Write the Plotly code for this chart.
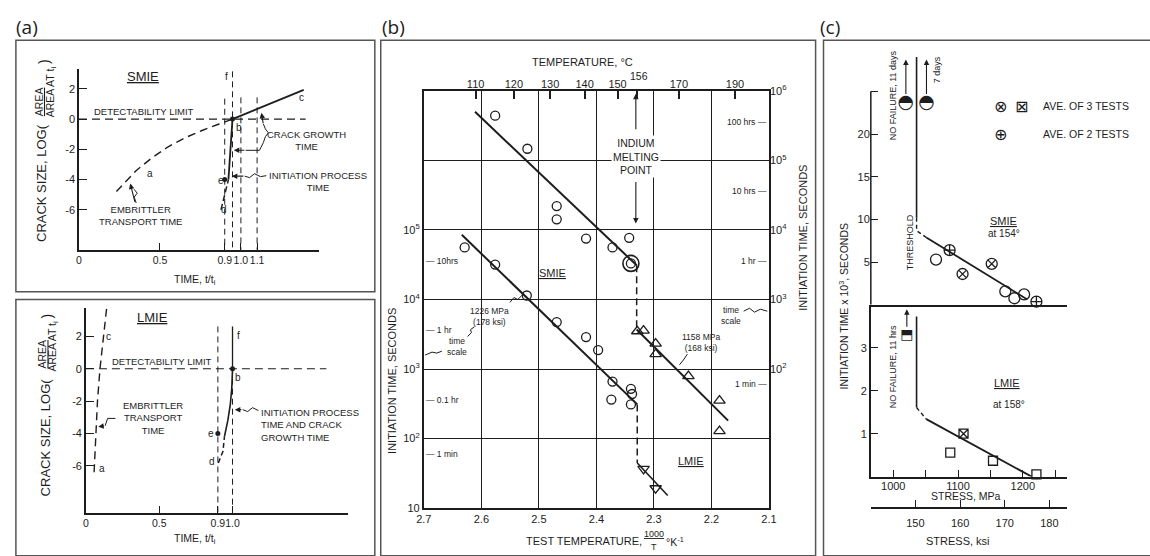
import math
import plotly.graph_objects as go

W, H = 1150, 556


def PX(x):
    return x / W


def PY(y):
    return 1 - y / H


INK = "#1d1d1d"
FONT = "Liberation Sans"
GLYPH = "DejaVu Sans"

# ============================ DATA ============================
# ---- (a) upper: SMIE schematic  (time t/ti, log of crack-area ratio)
a_ytick_vals = [-6, -4, -2, 0, 2]
a_ytick_text = ["-6", "-4", "-2", "0", "2"]
a1_xtick_vals = [0, 0.5, 0.9, 1.0, 1.1]
a1_xtick_text = ["0", "0.5", "0.9", "1.0", "1.1"]
a1_transport_t = [0.231, 0.278, 0.354, 0.449, 0.548, 0.652, 0.756, 0.861, 0.948]
a1_transport_y = [-4.79, -4.26, -3.40, -2.58, -1.85, -1.25, -0.77, -0.34, 0.0]
a1_growth_t = [0.948, 1.388]
a1_growth_y = [0.0, 1.94]
a1_init_t = [0.923, 0.948]
a1_init_y = [-4.0, 0.0]
a1_pre_t = [0.877, 0.923]
a1_pre_y = [-6.0, -4.0]
a1_dot_t = [0.948, 0.9]          # b, e
a1_dot_y = [0.0, -4.0]
a1_guide_t = [0.9, 0.948, 1.0, 1.1]
a1_guide_top = [1.35, 3.16, 1.44, 1.44]
a1_detect_t = [0.0, 1.40]
A1_YRANGE = [-8.65, 3.29]

# ---- (a) lower: LMIE schematic
a2_xtick_vals = [0, 0.5, 0.9, 1.0]
a2_xtick_text = ["0", "0.5", "0.9", "1.0"]
a2_transport_t = [0.056, 0.058, 0.067, 0.079, 0.096, 0.119, 0.141]
a2_transport_y = [-6.4, -6.0, -4.0, -2.0, 0.0, 2.0, 3.7]
a2_pre_t = [0.903, 0.935, 0.945]
a2_pre_y = [-5.83, -5.1, -4.2]
a2_init_t = [0.945, 0.968, 0.985, 0.995, 1.0]
a2_init_y = [-4.2, -3.2, -2.2, -1.2, 0.0]
a2_dot_t = [1.0, 0.9]            # b, e
a2_dot_y = [0.0, -4.0]
a2_guide_t = [0.9, 1.0]
a2_guide_top = [2.61, 2.61]
a2_detect_t = [0.0, 1.64]
A2_YRANGE = [-8.916, 3.735]

# ---- (b) initiation time vs 1000/T
b_xtick_vals = [2.7, 2.6, 2.5, 2.4, 2.3, 2.2, 2.1]
b_xtick_text = ["2.7", "2.6", "2.5", "2.4", "2.3", "2.2", "2.1"]
b_temp_c = [110, 120, 130, 140, 150, 156, 170, 190]
b_temp_text = ["110", "120", "130", "140", "150", "", "170", "190"]
b_melt_c = 156
b_left_vals = [1e1, 1e2, 1e3, 1e4, 1e5]
b_left_text = ["10", "10<sup>2</sup>", "10<sup>3</sup>", "10<sup>4</sup>", "10<sup>5</sup>"]
b_right_vals = [1e2, 1e3, 1e4, 1e5, 1e6]
b_right_text = ["10<sup>2</sup>", "10<sup>3</sup>", "10<sup>4</sup>", "10<sup>5</sup>", "10<sup>6</sup>"]
b_left_hours_s = [36000, 3600, 360, 60]
b_left_hours_lbl = ["10hrs", "1 hr", "0.1 hr", "1 min"]
b_right_hours_s = [360000, 36000, 3600, 60]
b_right_hours_lbl = ["100 hrs", "10 hrs", "1 hr", "1 min"]

# 1158 MPa series (right-hand time scale)
b_smie_hi_x = [2.576, 2.520, 2.469, 2.469, 2.418, 2.372, 2.343, 2.340]
b_smie_hi_s = [4.4e5, 1.47e5, 2.2e4, 1.42e4, 7.5e3, 5.6e3, 7.7e3, 3.3e3]
b_smie_hi_ring_x = [2.340]
b_smie_hi_ring_s = [3.3e3]
b_smie_hi_fit_x = [2.611, 2.330]
b_smie_hi_fit_s = [5.0e5, 3.1e3]
b_hi_drop_x = [2.330, 2.330]
b_hi_drop_s = [3.1e3, 369]
b_lmie_hi_x = [2.329, 2.318, 2.297, 2.297, 2.240, 2.186, 2.186]
b_lmie_hi_s = [349, 357, 232, 164, 79, 35.2, 12.8]
b_lmie_hi_fit_x = [2.330, 2.171]
b_lmie_hi_fit_s = [369, 18.1]

# 1226 MPa series (left-hand time scale)
b_smie_lo_x = [2.629, 2.576, 2.521, 2.469, 2.418, 2.397, 2.372, 2.374, 2.340, 2.338, 2.340]
b_smie_lo_s = [5.6e4, 3.18e4, 1.14e4, 4730, 2880, 1870, 659, 364, 519, 437, 310]
b_smie_lo_fit_x = [2.634, 2.329]
b_smie_lo_fit_s = [8.5e4, 310]
b_lo_drop_x = [2.329, 2.329]
b_lo_drop_s = [310, 44.6]
b_lmie_lo_x = [2.318, 2.297]
b_lmie_lo_s = [36.7, 19.3]
b_lmie_lo_fit_x = [2.329, 2.276]
b_lmie_lo_fit_s = [44.6, 15.2]

# ---- (c) initiation time (x10^3 s) vs stress
c_mpa_ticks = [1000, 1050, 1100, 1150, 1200, 1250]
c_mpa_text = ["1000", "", "1100", "", "1200", ""]
c_ksi_ticks = [150, 160, 170, 180]
c_ksi_text = ["150", "160", "170", "180"]
c_up_ticks = [5, 10, 15, 20, 25]
c_up_text = ["5", "10", "15", "20", ""]
c_lo_ticks = [1, 2, 3]
c_lo_text = ["1", "2", "3"]
MPA_PER_KSI = 6.894757

c_smie_open_x = [1066, 1173, 1187, 1202]
c_smie_open_y = [5.3, 1.55, 0.75, 1.2]
c_smie_avg2_x = [1087, 1221]
c_smie_avg2_y = [6.4, 0.35]
c_smie_avg3_x = [1107, 1152]
c_smie_avg3_y = [3.6, 4.8]
c_smie_fit_x = [1051, 1207]
c_smie_fit_y = [7.9, 0.6]
c_smie_thr_x = [1036, 1036]
c_smie_thr_y = [29.1, 10.2]
c_smie_kink_x = [1036, 1036, 1051]
c_smie_kink_y = [10.2, 8.7, 7.9]
c_smie_run_x = [1019.5, 1051.3]
c_smie_run_y = [23.7, 23.7]
C_UP_AXIS_TOP = 25.07

c_lmie_open_x = [1088, 1154, 1221]
c_lmie_open_y = [0.56, 0.37, 0.05]
c_lmie_avg3_x = [1108.5]
c_lmie_avg3_y = [1.0]
c_lmie_fit_x = [1051, 1213.5]
c_lmie_fit_y = [1.34, 0.0]
c_lmie_thr_x = [1036, 1036]
c_lmie_thr_y = [3.73, 1.61]
c_lmie_kink_x = [1036, 1051]
c_lmie_kink_y = [1.61, 1.34]
c_lmie_run_x = [1021]
c_lmie_run_y = [3.29]

C_MPA_RANGE = [965.4, 1268.3]

# ============================ FIGURE ============================
fig = go.Figure()


def line(x, y, xa, ya, width=1.5, dash=None):
    fig.add_trace(go.Scatter(x=x, y=y, xaxis=xa, yaxis=ya, mode="lines",
                             line=dict(color=INK, width=width, dash=dash),
                             hoverinfo="skip", showlegend=False))


def marks(x, y, xa, ya, symbol, size, lw=1.3):
    fig.add_trace(go.Scatter(x=x, y=y, xaxis=xa, yaxis=ya, mode="markers",
                             marker=dict(symbol=symbol, size=size, color=INK,
                                         line=dict(color=INK, width=lw)),
                             cliponaxis=False, hoverinfo="skip", showlegend=False))


def verticals(ts, tops, bottom):
    xs, ys = [], []
    for t, top in zip(ts, tops):
        xs += [t, t, None]
        ys += [top, bottom, None]
    return xs, ys


DASH = "6px,4px"

# ---- (a) upper
gx, gy = verticals(a1_guide_t, a1_guide_top, A1_YRANGE[0])
line(gx, gy, "x", "y", width=1, dash=DASH)
line(a1_detect_t, [0, 0], "x", "y", width=1.1, dash="8px,5px")
line(a1_transport_t, a1_transport_y, "x", "y", width=1.4, dash="8px,5px")
line(a1_growth_t, a1_growth_y, "x", "y", width=1.8)
line(a1_init_t, a1_init_y, "x", "y", width=1.8)
line(a1_pre_t, a1_pre_y, "x", "y", width=1.5, dash="6px,3px")
marks(a1_dot_t, a1_dot_y, "x", "y", "circle", 5, lw=0)

# ---- (a) lower
line([a2_guide_t[0], a2_guide_t[0]], [a2_guide_top[0], A2_YRANGE[0]], "x2", "y2", width=1, dash=DASH)
line([a2_guide_t[1], a2_guide_t[1]], [a2_guide_top[1], 0], "x2", "y2", width=1.3)
line([a2_guide_t[1], a2_guide_t[1]], [0, A2_YRANGE[0]], "x2", "y2", width=1, dash=DASH)
line(a2_detect_t, [0, 0], "x2", "y2", width=1.1, dash="8px,5px")
line(a2_transport_t, a2_transport_y, "x2", "y2", width=1.4, dash="8px,5px")
line(a2_pre_t, a2_pre_y, "x2", "y2", width=1.5, dash="5px,3px")
line(a2_init_t, a2_init_y, "x2", "y2", width=1.6)
marks(a2_dot_t, a2_dot_y, "x2", "y2", "circle", 5, lw=0)

# ---- (b)
fig.add_trace(go.Scatter(x=[None], y=[None], xaxis="x4", yaxis="y3", mode="markers",
                         hoverinfo="skip", showlegend=False))
line(b_smie_hi_fit_x, b_smie_hi_fit_s, "x3", "y4", width=2)
line(b_hi_drop_x, b_hi_drop_s, "x3", "y4", width=1.5, dash="7px,4px")
line(b_lmie_hi_fit_x, b_lmie_hi_fit_s, "x3", "y4", width=2)
marks(b_smie_hi_x, b_smie_hi_s, "x3", "y4", "circle-open", 9)
marks(b_smie_hi_ring_x, b_smie_hi_ring_s, "x3", "y4", "circle-open", 16, lw=1.6)
marks(b_lmie_hi_x, b_lmie_hi_s, "x3", "y4", "triangle-up-open", 10)
line(b_smie_lo_fit_x, b_smie_lo_fit_s, "x3", "y3", width=2)
line(b_lo_drop_x, b_lo_drop_s, "x3", "y3", width=1.5, dash="7px,4px")
line(b_lmie_lo_fit_x, b_lmie_lo_fit_s, "x3", "y3", width=1.6)
marks(b_smie_lo_x, b_smie_lo_s, "x3", "y3", "circle-open", 9)
marks(b_lmie_lo_x, b_lmie_lo_s, "x3", "y3", "triangle-down-open", 10)

# ---- (c)
fig.add_trace(go.Scatter(x=[None], y=[None], xaxis="x7", yaxis="y6", mode="markers",
                         hoverinfo="skip", showlegend=False))
line(c_smie_thr_x, c_smie_thr_y, "x5", "y5", width=1.6)
line(c_smie_kink_x, c_smie_kink_y, "x5", "y5", width=1.4, dash="4px,3px")
line(c_smie_fit_x, c_smie_fit_y, "x5", "y5", width=1.8)
marks(c_smie_open_x, c_smie_open_y, "x5", "y5", "circle-open", 11)
marks(c_smie_avg2_x, c_smie_avg2_y, "x5", "y5", "circle-cross-open", 11)
marks(c_smie_avg3_x, c_smie_avg3_y, "x5", "y5", "circle-x-open", 11)
fig.add_trace(go.Scatter(x=c_smie_run_x, y=c_smie_run_y, xaxis="x5", yaxis="y5", mode="text",
                         text=["◓"] * len(c_smie_run_x), textposition="middle center",
                         textfont=dict(family=GLYPH, size=19, color=INK),
                         cliponaxis=False, hoverinfo="skip", showlegend=False))
line(c_lmie_thr_x, c_lmie_thr_y, "x6", "y6", width=1.6)
line(c_lmie_kink_x, c_lmie_kink_y, "x6", "y6", width=1.4, dash="4px,3px")
line(c_lmie_fit_x, c_lmie_fit_y, "x6", "y6", width=1.8)
marks(c_lmie_open_x, c_lmie_open_y, "x6", "y6", "square-open", 9)
marks(c_lmie_avg3_x, c_lmie_avg3_y, "x6", "y6", "square-x-open", 9)
fig.add_trace(go.Scatter(x=c_lmie_run_x, y=c_lmie_run_y, xaxis="x6", yaxis="y6", mode="text",
                         text=["⬒"] * len(c_lmie_run_x), textposition="middle center",
                         textfont=dict(family=GLYPH, size=14, color=INK),
                         cliponaxis=False, hoverinfo="skip", showlegend=False))

# ============================ AXES ============================
TICKFONT = dict(family=FONT, size=11, color=INK)


def lin_axis(**kw):
    base = dict(showgrid=False, zeroline=False, showline=True, linecolor=INK, linewidth=1.5,
                ticks="inside", tickcolor=INK, tickwidth=1.3, ticklen=7, tickangle=0,
                tickfont=TICKFONT, fixedrange=True)
    base.update(kw)
    return base


def inv_t(c):
    return 1000.0 / (c + 273.15)


layout_axes = dict(
    xaxis=lin_axis(domain=[PX(72), PX(315)], range=[0, 1.48], anchor="y",
                   tickvals=a1_xtick_vals, ticktext=a1_xtick_text,
                   tickfont=dict(family=FONT, size=10.5, color=INK)),
    yaxis=lin_axis(domain=[PY(248), PY(63)], range=A1_YRANGE, anchor="x",
                   tickvals=a_ytick_vals, ticktext=a_ytick_text, ticklen=8),
    xaxis2=lin_axis(domain=[PX(79), PX(345)], range=[0, 1.789], anchor="y2",
                    tickvals=a2_xtick_vals, ticktext=a2_xtick_text,
                    tickfont=dict(family=FONT, size=10.5, color=INK)),
    yaxis2=lin_axis(domain=[PY(518), PY(308)], range=A2_YRANGE, anchor="x2",
                    tickvals=a_ytick_vals, ticktext=a_ytick_text, ticklen=8),
    xaxis3=dict(domain=[PX(421.7), PX(771.7)], range=[2.7, 2.1], anchor="y3",
                tickvals=b_xtick_vals, ticktext=b_xtick_text, showgrid=True, gridcolor=INK,
                gridwidth=1.1, showline=True, mirror=True, linecolor=INK, linewidth=1.8,
                ticks="", tickangle=0, zeroline=False, tickfont=TICKFONT, fixedrange=True),
    yaxis3=dict(domain=[PY(513), PY(85)], type="log", range=[1, 7], anchor="x3",
                tickvals=b_left_vals, ticktext=b_left_text, showgrid=True, gridcolor=INK,
                gridwidth=1.1, showline=True, mirror=True, linecolor=INK, linewidth=1.8,
                ticks="", zeroline=False, tickfont=TICKFONT, fixedrange=True),
    yaxis4=dict(type="log", range=[0, 6], overlaying="y3", side="right", anchor="x3",
                tickvals=b_right_vals, ticktext=b_right_text, showgrid=True, gridcolor=INK,
                gridwidth=1.1, showline=False, ticks="", zeroline=False,
                tickfont=TICKFONT, fixedrange=True),
    xaxis4=dict(range=[2.7, 2.1], overlaying="x3", side="top", anchor="y3",
                tickvals=[inv_t(c) for c in b_temp_c], ticktext=b_temp_text,
                ticks="inside", ticklen=8, tickwidth=1.5, tickcolor=INK, showgrid=False,
                tickangle=0, showline=False, zeroline=False, tickfont=TICKFONT, fixedrange=True),
    xaxis5=dict(domain=[PX(875), PX(1074)], range=C_MPA_RANGE, anchor="y5",
                showline=True, linecolor=INK, linewidth=1.5, ticks="", showticklabels=False,
                showgrid=False, zeroline=False, fixedrange=True),
    yaxis5=lin_axis(domain=[PY(304.3), PY(45.9)], range=[0, 29.6], anchor="x5",
                    showline=False, tickvals=c_up_ticks, ticktext=c_up_text),
    xaxis6=lin_axis(domain=[PX(875), PX(1074)], range=C_MPA_RANGE, anchor="y6",
                    tickvals=c_mpa_ticks, ticktext=c_mpa_text, ticklabelstandoff=-2),
    yaxis6=lin_axis(domain=[PY(480.7), PY(304.3)], range=[0, 4.009], anchor="x6",
                    tickvals=c_lo_ticks, ticktext=c_lo_text),
    xaxis7=lin_axis(range=[C_MPA_RANGE[0] / MPA_PER_KSI, C_MPA_RANGE[1] / MPA_PER_KSI],
                    overlaying="x6", anchor="free", position=PY(512.7), side="bottom",
                    tickvals=c_ksi_ticks, ticktext=c_ksi_text, ticklabelstandoff=5),
)

# ============================ TEXT ============================


def T(text, x, y, size=10, xanchor="center", yanchor="middle", angle=0, family=FONT, **kw):
    d = dict(text=text, x=PX(x), y=PY(y), xref="paper", yref="paper", showarrow=False,
             font=dict(family=family, size=size, color=INK), xanchor=xanchor,
             yanchor=yanchor, textangle=angle)
    d.update(kw)
    return d


def ARROW(x, y, ax, ay, width=1.1, head=2, size=1.0):
    return dict(x=PX(x), y=PY(y), xref="paper", yref="paper", ax=ax, ay=ay,
                axref="pixel", ayref="pixel", text="", showarrow=True, arrowhead=head,
                arrowsize=size, arrowwidth=width, arrowcolor=INK)


anns = []
# panel letters
anns += [T("(a)", 6, 20, size=19, xanchor="left", family="Open Sans"),
         T("(b)", 377, 20, size=19, xanchor="left", family="Open Sans"),
         T("(c)", 821, 20, size=19, xanchor="left", family="Open Sans")]

# (a) upper
anns += [
    T("<u>SMIE</u>", 137, 70, size=13),
    T("DETECTABILITY LIMIT", 138, 106, size=9.5),
    T("a", 144, 170, size=10), T("c", 298, 92, size=10), T("b", 234.5, 123, size=10),
    T("e", 216, 177, size=10), T("d", 219, 207, size=10), T("f", 221.5, 70, size=10),
    T("CRACK GROWTH<br>TIME", 303, 135.5, size=9.5),
    T("INITIATION PROCESS<br>TIME", 314, 178, size=9.5),
    T("EMBRITTLER<br>TRANSPORT TIME", 134, 213, size=9.5),
    T("TIME, t/t<sub>i</sub>", 190, 279, size=10.5),
    T("CRACK SIZE, LOG(", 34, 180, size=13, angle=-90),
    T("<u>AREA</u>", 31, 96, size=10.5, angle=-90),
    T("AREA AT t<sub>i</sub>", 43, 86, size=10.5, angle=-90),
    T(")", 36, 55, size=14, angle=-90),
]
# (a) lower
anns += [
    T("<u>LMIE</u>", 147, 318, size=13),
    T("DETECTABILITY LIMIT", 156, 363, size=9.5),
    T("c", 101.5, 337, size=10), T("b", 233.5, 379, size=10), T("f", 233.5, 336, size=10),
    T("e", 206, 436, size=10), T("d", 206.5, 465, size=10), T("a", 95, 472, size=10),
    T("EMBRITTLER<br>TRANSPORT<br>TIME", 147, 421, size=9.5),
    T("INITIATION PROCESS<br>TIME AND CRACK<br>GROWTH TIME", 255, 428, size=9.5,
      xanchor="left", align="left"),
    T("TIME, t/t<sub>i</sub>", 190, 545, size=10.5),
    T("CRACK SIZE, LOG(", 38, 440, size=13, angle=-90),
    T("<u>AREA</u>", 35, 355, size=10.5, angle=-90),
    T("AREA AT t<sub>i</sub>", 46, 347, size=10.5, angle=-90),
    T(")", 40, 316, size=14, angle=-90),
]
# (b)
anns += [
    T("TEMPERATURE, °C", 583, 55, size=11),
    T(str(b_melt_c), 640, 70, size=10.5),
    T("INDIUM<br>MELTING<br>POINT", 636.7, 152, size=10.5, bgcolor="white"),
    T("<u>SMIE</u>", 552, 272, size=11),
    T("<u>LMIE</u>", 693, 465, size=11),
    T("1226 MPa<br>(178 ksi)", 488, 316, size=8.5),
    T("time<br>scale", 455, 347, size=8.5),
    T("1158 MPa<br>(168 ksi)", 703, 343, size=8.5),
    T("time<br>scale", 733, 315, size=8.5),
    T("TEST TEMPERATURE,", 645, 547, size=11, xanchor="right"),
    T("<u>1000</u>", 655, 540, size=9),
    T("T", 655, 553, size=9),
    T("°K<sup>-1</sup>", 665, 547, size=10.5, xanchor="left"),
    T("INITIATION TIME, SECONDS", 390, 383, size=11, angle=-90),
    T("INITIATION TIME, SECONDS", 806, 236, size=11, angle=-90),
]
for s, lbl in zip(b_left_hours_s, b_left_hours_lbl):
    anns.append(dict(text="— " + lbl, x=0, y=math.log10(s), xref="x3 domain", yref="y3",
                     xanchor="left", yanchor="middle", showarrow=False,
                     font=dict(family=FONT, size=8.5, color=INK)))
for s, lbl in zip(b_right_hours_s, b_right_hours_lbl):
    anns.append(dict(text=lbl + " —", x=1, y=math.log10(s), xref="x3 domain", yref="y4",
                     xanchor="right", yanchor="middle", showarrow=False,
                     font=dict(family=FONT, size=8.5, color=INK)))
anns += [ARROW(636.7, 88, 0, 37), ARROW(636.7, 221, 0, -43)]
# (c)
anns += [
    T("⊗", 1006.7, 101, size=16, family=GLYPH), T("⊠", 1028.3, 101, size=16, family=GLYPH),
    T("AVE. OF 3 TESTS", 1048, 101, size=10.5, xanchor="left"),
    T("⊕", 1006.7, 129.5, size=16, family=GLYPH),
    T("AVE. OF 2 TESTS", 1048, 129.5, size=10.5, xanchor="left"),
    T("NO FAILURE, 11 days", 897, 90, size=9, angle=-90),
    T("7 days", 943, 63, size=9, angle=-90),
    T("THRESHOLD", 915, 240, size=9, angle=-90),
    T("<u>SMIE</u>", 1010, 218, size=11),
    T("at 154°", 1010, 231.5, size=10),
    T("NO FAILURE, 11 hrs", 897, 368, size=9, angle=-90),
    T("<u>LMIE</u>", 1013, 385, size=11),
    T("at 158°", 1015, 407, size=10),
    T("STRESS, MPa", 972, 500.5, size=10.5),
    T("STRESS, ksi", 963, 547, size=11),
    T("INITIATION TIME x 10<sup>3</sup>, SECONDS", 847, 306, size=10.5, angle=-90),
]
for sx in c_smie_run_x:
    anns.append(dict(x=sx, y=28.8, xref="x5", yref="y5", ax=0, ay=36, axref="pixel",
                     ayref="pixel", text="", showarrow=True, arrowhead=2, arrowsize=1,
                     arrowwidth=1.1, arrowcolor=INK))
for sx in c_lmie_run_x:
    anns.append(dict(x=sx, y=3.90, xref="x6", yref="y6", ax=0, ay=19, axref="pixel",
                     ayref="pixel", text="", showarrow=True, arrowhead=2, arrowsize=1,
                     arrowwidth=1.1, arrowcolor=INK))
# leader arrows in (a)
anns += [ARROW(124, 180, 5, 20), ARROW(257, 107.5, 2, 12), ARROW(229, 146, 12, 0),
         ARROW(227, 172.5, 13, 0), ARROW(91.5, 429.5, 7, -1), ARROW(230, 412, 8, 0)]

# ============================ SHAPES ============================


def LEADER(points, width=1.0):
    p = "M " + " L ".join(f"{PX(x):.5f},{PY(y):.5f}" for x, y in points)
    return dict(type="path", xref="paper", yref="paper", path=p,
                line=dict(color=INK, width=width))


def BOX(x0, y0, x1, y1):
    return dict(type="rect", xref="paper", yref="paper", x0=PX(x0), x1=PX(x1),
                y0=PY(y1), y1=PY(y0), line=dict(color="#555555", width=1.5),
                fillcolor="rgba(0,0,0,0)")


shapes = [
    BOX(8, 33, 372, 291), BOX(8, 299, 372, 562), BOX(378, 33, 819, 562), BOX(827, 33, 1160, 562),
    dict(type="line", xref="x5 domain", yref="y5", x0=0, x1=0, y0=0, y1=C_UP_AXIS_TOP,
         line=dict(color=INK, width=1.5)),
    # (a) leaders
    LEADER([(130, 200), (128, 194), (131, 190), (128, 186)]),
    LEADER([(259, 119), (261, 124), (264, 128), (261, 132), (259, 138), (255, 146), (241, 146)]),
    LEADER([(240, 172.5), (245, 174), (250, 170), (256, 173), (262, 172)]),
    LEADER([(109, 421), (101, 421), (98.5, 428.5)]),
    LEADER([(238, 412), (243, 414), (248, 410), (254, 413)]),
    # (b) leaders
    LEADER([(509, 302), (513, 297), (517, 299), (521, 295)]),
    LEADER([(440, 352), (435, 354), (430, 353), (423, 356)]),
    LEADER([(466, 337), (470, 333), (469, 330), (473, 327)]),
    LEADER([(689, 355), (685, 361), (681, 366)]),
    LEADER([(746, 311), (752, 308), (757, 312), (763, 309), (770, 311)]),
]

fig.update_layout(
    width=W, height=H, autosize=False,
    margin=dict(l=0, r=0, t=0, b=0, pad=0),
    paper_bgcolor="white", plot_bgcolor="rgba(0,0,0,0)",
    showlegend=False,
    annotations=anns,
    shapes=shapes,
    font=dict(family=FONT, color=INK),
    **layout_axes,
)

fig.write_html("out.html")
